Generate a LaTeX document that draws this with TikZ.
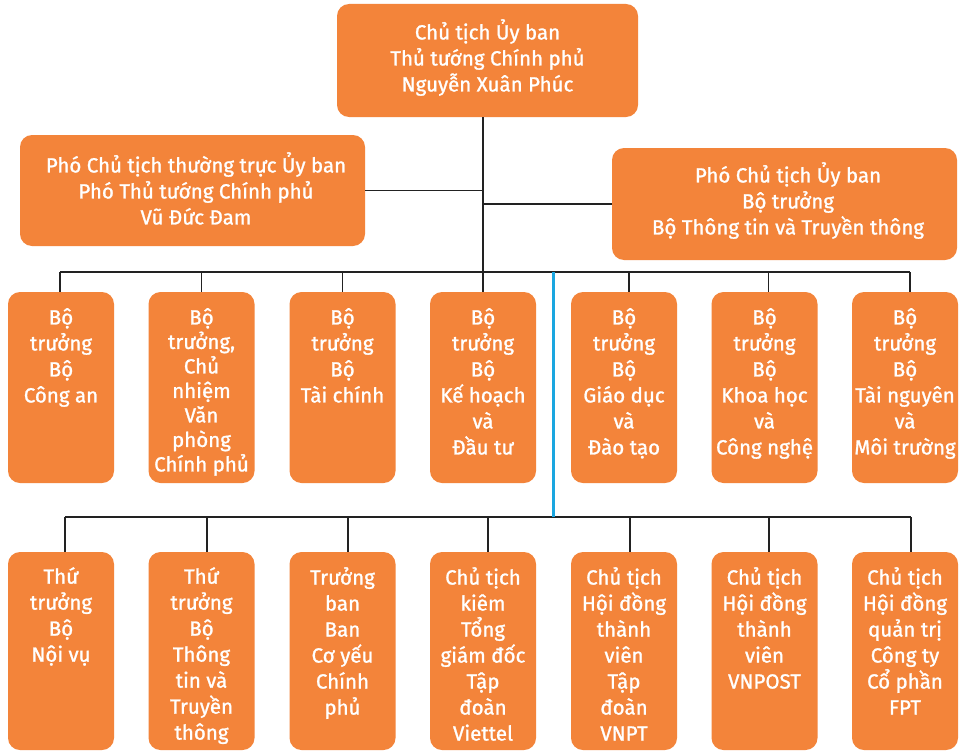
\documentclass[tikz,border=0pt]{standalone}
\usepackage{fontspec}
\setmainfont{Fira Sans}[FakeBold=1.2]
\definecolor{orgbox}{HTML}{F3843A}
\definecolor{linec}{HTML}{222222}
\definecolor{bluel}{HTML}{1AA6E0}
\begin{document}
\begin{tikzpicture}[x=1pt,y=-1pt,
  box/.style={fill=orgbox, rounded corners=12pt, inner sep=0pt, draw=none},
  colbox/.style={box, minimum width=106pt, minimum height=191pt},
  lowbox/.style={box, minimum width=106pt, minimum height=198pt},
  txt/.style={text=white, align=center, inner sep=0pt, anchor=north,
    font=\fontsize{20.5}{26}\selectfont, yshift=16pt,
    execute at begin node=\rule{0pt}{22pt}},
  tight/.style={font=\fontsize{20.5}{24.5}\selectfont},
  conn/.style={draw=linec, line width=1.6pt},
  blueconn/.style={draw=bluel, line width=3pt}
]
\useasboundingbox (0,0) rectangle (960,752);
\fill[white] (0,0) rectangle (960,752);

% top level
\node[box, minimum width=301pt, minimum height=113pt] (top) at (487.5,60.5) {};
\node[txt] (toptxt) at (487.5,35) {Chủ tịch Ủy ban\\Thủ tướng Chính phủ\\Nguyễn Xuân Phúc};

\node[box, minimum width=345pt, minimum height=111pt] (left) at (192.5,190.5) {};
\node[txt] (lefttxt) at (196,168) {Phó Chủ tịch thường trực Ủy ban\\Phó Thủ tướng Chính phủ\\Vũ Đức Đam};

\node[box, minimum width=345pt, minimum height=112pt] (right) at (784.5,204) {};
\node[txt] (righttxt) at (788,178) {Phó Chủ tịch Ủy ban\\Bộ trưởng\\Bộ Thông tin và Truyền thông};

% row 1
\foreach \n/\x in {a/61,b/201.5,c/342.5,d/483,e/624,f/764.5,g/905}{
  \node[colbox] (r1\n) at (\x,387.5) {};
}
\node[txt] (t1a) at (61,324) {Bộ\\trưởng\\Bộ\\Công an};
\node[txt,tight] (t1b) at (201.5,324) {Bộ\\trưởng,\\Chủ\\nhiệm\\Văn\\phòng\\Chính phủ};
\node[txt] (t1c) at (342.5,324) {Bộ\\trưởng\\Bộ\\Tài chính};
\node[txt] (t1d) at (483,324) {Bộ\\trưởng\\Bộ\\Kế hoạch\\và\\Đầu tư};
\node[txt] (t1e) at (624,324) {Bộ\\trưởng\\Bộ\\Giáo dục\\và\\Đào tạo};
\node[txt] (t1f) at (764.5,324) {Bộ\\trưởng\\Bộ\\Khoa học\\và\\Công nghệ};
\node[txt] (t1g) at (905,324) {Bộ\\trưởng\\Bộ\\Tài nguyên\\và\\Môi trường};

% row 2
\foreach \n/\x in {a/61,b/201.5,c/342.5,d/483,e/624,f/764.5,g/905}{
  \node[lowbox] (r2\n) at (\x,651) {};
}
\node[txt] (t2a) at (61,583) {Thứ\\trưởng\\Bộ\\Nội vụ};
\node[txt] (t2b) at (201.5,583) {Thứ\\trưởng\\Bộ\\Thông\\tin và\\Truyền\\thông};
\node[txt] (t2c) at (342.5,583) {Trưởng\\ban\\Ban\\Cơ yếu\\Chính\\phủ};
\node[txt] (t2d) at (483,583) {Chủ tịch\\kiêm\\Tổng\\giám đốc\\Tập\\đoàn\\Viettel};
\node[txt] (t2e) at (624,583) {Chủ tịch\\Hội đồng\\thành\\viên\\Tập\\đoàn\\VNPT};
\node[txt] (t2f) at (764.5,583) {Chủ tịch\\Hội đồng\\thành\\viên\\VNPOST};
\node[txt] (t2g) at (905,583) {Chủ tịch\\Hội đồng\\quản trị\\Công ty\\Cổ phần\\FPT};

% connectors
\coordinate (trunkTop) at (483,117);
\coordinate (bus1) at (483,272);
\coordinate (bus1L) at (60,272);
\coordinate (bus1R) at (910,272);
\coordinate (bus2L) at (65,517);
\coordinate (bus2R) at (911,517);
\coordinate (blueTop) at (553,272);
\coordinate (blueBot) at (553,517);

\draw[conn] (trunkTop) -- (bus1);
\draw[conn] (left.east) -- (left.east -| trunkTop);
\draw[conn] (right.west -| trunkTop) -- (right.west);
\draw[conn] (bus1L) -- (bus1R);
\draw[conn] (bus2L) -- (bus2R);
\foreach \n/\s in {a/-1,b/0,c/0,d/0,e/5,f/4,g/5}{
  \draw[conn] ([xshift=\s pt]r1\n.north) -- ([xshift=\s pt]r1\n.north |- bus1L);
}
\foreach \n/\s in {a/4,b/5.5,c/5.5,d/5,e/6,f/4.5,g/6}{
  \draw[conn] ([xshift=\s pt]r2\n.north) -- ([xshift=\s pt]r2\n.north |- bus2L);
}
\draw[blueconn] (blueTop) -- (blueBot);
\end{tikzpicture}
\end{document}
